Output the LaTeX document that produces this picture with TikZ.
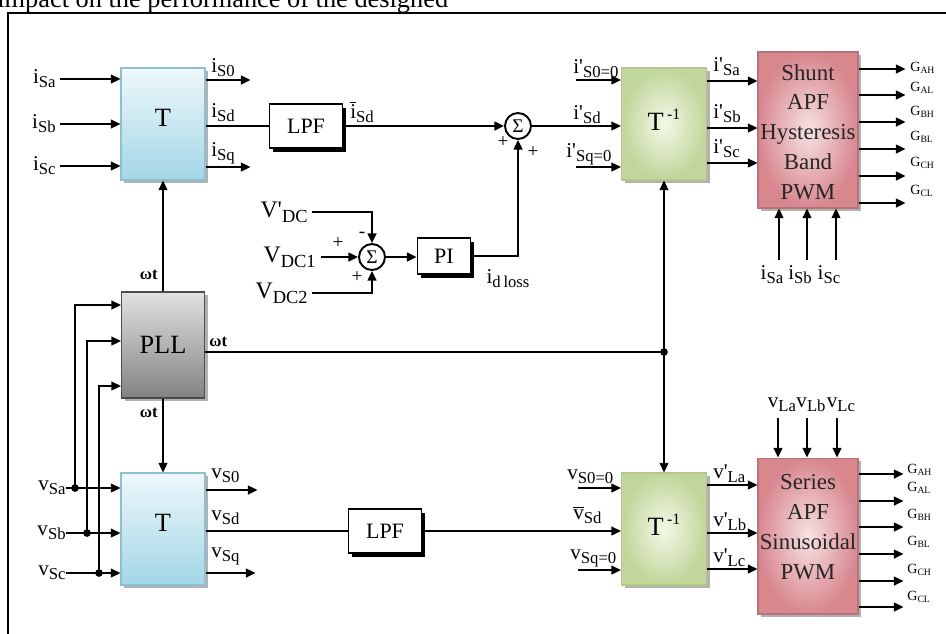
\documentclass[tikz,border=0pt]{standalone}
\usepackage{fontspec}
\setmainfont{Liberation Serif}
\usetikzlibrary{arrows.meta,shadows,positioning}

\definecolor{tTop}{HTML}{EEF8FB}
\definecolor{tBot}{HTML}{A3D6E6}
\definecolor{tEdge}{HTML}{8CC0D2}
\definecolor{gIn}{HTML}{F4F8E8}
\definecolor{gOut}{HTML}{C0D69A}
\definecolor{gEdge}{HTML}{B2C98A}
\definecolor{pTop}{HTML}{E2E2E2}
\definecolor{pBot}{HTML}{828282}
\definecolor{rIn}{HTML}{F7E2E3}
\definecolor{rOut}{HTML}{D8878F}

\newcommand{\pr}{\textquotesingle}
\newcommand{\sig}[2]{{\fontsize{12}{12}\selectfont #1}\raisebox{-0.5ex}{\fontsize{9.5}{10}\selectfont #2}}
\newcommand{\vsig}[2]{{\fontsize{13.5}{14}\selectfont #1}\raisebox{-0.6ex}{\fontsize{10.5}{11}\selectfont #2}}
\newcommand{\gsig}[1]{{\fontsize{8}{8}\selectfont G}\raisebox{-0.3ex}{\fontsize{5.5}{6}\selectfont #1}}
\newcommand{\tinv}{T\hspace{2pt}\raisebox{0.9ex}{\fontsize{9}{9}\selectfont -1}}
\newcommand{\wt}{{\fontsize{9.5}{10}\selectfont\bfseries ωt}}
\newcommand{\ibar}{\ensuremath{\overline{\mbox{i}}}}
\newcommand{\vbar}{\ensuremath{\overline{\mbox{v}}}}

\begin{document}
\begin{tikzpicture}[x=0.02cm,y=-0.02cm]
\tikzstyle{every node}+=[inner sep=0pt]
\tikzstyle{wire}=[line width=1.1pt]
\tikzstyle{arr}=[wire,-{Triangle[length=5.5pt,width=5pt]}]
\tikzstyle{rarr}=[wire,{Triangle[length=5.5pt,width=5pt]}-]
\tikzstyle{tblock}=[draw=tEdge,line width=0.6pt,top color=tTop,bottom color=tBot,minimum width=1.68cm,minimum height=2.24cm,font=\fontsize{15}{15}\selectfont,text depth=6.8pt,drop shadow={shadow xshift=1.8pt,shadow yshift=-1.8pt,fill=black,opacity=0.3}]
\tikzstyle{ginv}=[draw=gEdge,line width=0.6pt,inner color=gIn,outer color=gOut,minimum width=1.7cm,minimum height=2.24cm,font=\fontsize{15}{15}\selectfont,text depth=5pt,drop shadow={shadow xshift=1.8pt,shadow yshift=-1.8pt,fill=black,opacity=0.3}]
\tikzstyle{pllblock}=[draw=gray!60!black,line width=0.6pt,top color=pTop,bottom color=pBot,minimum width=1.66cm,minimum height=2.12cm,font=\fontsize{15}{15}\selectfont,drop shadow={shadow xshift=1.8pt,shadow yshift=-1.8pt,fill=black,opacity=0.3}]
\tikzstyle{apf}=[draw=rOut!85!black,line width=0.6pt,inner color=rIn,outer color=rOut,minimum width=2cm,minimum height=3.12cm,drop shadow={shadow xshift=1.8pt,shadow yshift=-1.8pt,fill=black,opacity=0.3}]
\tikzstyle{apftext}=[align=center,font=\fontsize{13}{17}\selectfont,text=black!85]
\tikzstyle{filt}=[draw,line width=1.1pt,fill=white,minimum width=1.46cm,minimum height=0.88cm,font=\fontsize{12.5}{13}\selectfont,drop shadow={shadow xshift=2.2pt,shadow yshift=-2.2pt,fill=black,opacity=1}]
\tikzstyle{sumc}=[circle,draw,line width=1.1pt,fill=white,minimum size=0.52cm,font=\fontsize{11}{11}\selectfont]
\tikzstyle{sgn}=[font=\fontsize{11}{11}\selectfont]

\useasboundingbox (0,0) rectangle (946,633);
\clip (0,0) rectangle (946,633);

% caption line and frame
\node[anchor=base west,font=\fontsize{15}{15}\selectfont] (cap) at (-3,7) {impact on the performance of the designed};
\draw[line width=1.1pt] (8,650) |- (960,13);

% blocks
\node[tblock] (T1) at (163,124) {T};
\node[pllblock] (PLL) at (163,345) {PLL};
\node[tblock] (T2) at (163,529) {T};
\node[filt] (LPF1) at (306,126) {LPF};
\node[filt] (LPF2) at (385,531) {LPF};
\node[filt,minimum width=1.06cm,minimum height=0.72cm] (PI) at (444,256) {PI};
\node[sumc] (S1) at (518,126) {Σ};
\node[sumc] (S2) at (372,257) {Σ};
\node[ginv] (Ti1) at (664,124) {\tinv};
\node[ginv] (Ti2) at (664,529) {\tinv};
\node[apf] (SH) at (808,130) {};
\node[apftext] at (808,132) {Shunt\\APF\\Hysteresis\\Band\\PWM};
\node[apf] (SE) at (808,536) {};
\node[apftext] at (808,527) {Series\\APF\\Sinusoidal\\PWM};

% source currents into T
\foreach \y/\s [count=\k] in {79/Sa,124/Sb,166/Sc}{
  \node[anchor=east] (isin\k) at (56,\y) {\sig{i}{\s}};
  \draw[arr] ([xshift=2pt]isin\k.east) -- (T1.west |- isin\k);
}
\draw[arr] (T1.east |- 0,80) -- ++(45,0);
\draw[arr] (T1.east |- 0,167) -- ++(45,0);
\draw[wire] (T1.east |- LPF1) -- (LPF1);
\node[anchor=south west] at (211,77) {\sig{i}{S0}};
\node[anchor=south west] at (211,122) {\sig{i}{Sd}};
\node[anchor=south west] at (211,164) {\sig{i}{Sq}};

% d axis current and dc loop
\draw[arr] (LPF1) -- (S1);
\node[anchor=south west] at (350,123) {\sig{\ibar}{Sd}};
\node[sgn] at (503,142) {+};
\node[sgn] at (533,152) {+};
\node[anchor=east] (vdcp) at (308,212) {\vsig{V\pr}{DC}};
\node[anchor=east] (vdc1) at (316,257) {\vsig{V}{DC1}};
\node[anchor=east] (vdc2) at (308,293) {\vsig{V}{DC2}};
\draw[arr] ([xshift=2pt]vdcp.east) -| (S2.north);
\draw[arr] ([xshift=3pt]vdc1.east) -- (S2.west);
\draw[arr] ([xshift=2pt]vdc2.east) -| (S2.south);
\node[sgn] at (362,235) {-};
\node[sgn] at (338,243) {+};
\node[sgn] at (357,277) {+};
\draw[arr] (S2) -- (S2 -| PI.west);
\draw[arr] (PI) -| (S1);
\node at (508,279) {\sig{i}{d\,loss}};

% reference currents
\draw[arr] (S1) -- (S1 -| Ti1.west);
\node[anchor=south west] at (573,124) {\sig{i\pr}{Sd}};
\draw[rarr] (Ti1.west |- 0,80) -- ++(-45,0);
\draw[rarr] (Ti1.west |- 0,167) -- ++(-45,0);
\node[anchor=south west] at (573,78) {\sig{i\pr}{S0=0}};
\node[anchor=south west] at (566,165) {\sig{i\pr}{Sq=0}};
\foreach \y/\s in {81/Sa,128/Sb,163/Sc}{
  \draw[arr] (Ti1.east |- 0,\y) -- (SH.west |- 0,\y);
  \node[anchor=south west] at (713,{\y-5}) {\sig{i\pr}{\s}};
}
\foreach \x/\s in {779/Sa,807/Sb,836/Sc}{
  \draw[rarr] (SH.south -| \x,0) -- (\x,260);
  \node[anchor=north] at ({\x-7},265) {\sig{i}{\s}};
}
\foreach \ya/\yl/\g in {69/68/AH,95/88/AL,122/112/BH,149/137/BL,176/163/CH,203/191/CL}{
  \draw[arr] (SH.east |- 0,\ya) -- ++(47,0);
  \node[anchor=west] at (910,\yl) {\gsig{\g}};
}

% PLL
\draw[arr] (PLL) -- (T1);
\draw[arr] (PLL) -- (T2);
\node[anchor=east] at (158,275) {\wt};
\node[anchor=east] at (158,413) {\wt};
\coordinate (J) at (664,352);
\draw[wire] (PLL.east |- J) -- (J);
\fill (J) circle (2.2pt);
\draw[arr] (J) -- (Ti1);
\draw[arr] (J) -- (Ti2);
\node[anchor=south west] at (209,347) {\wt};

% source voltages into T and PLL
\foreach \y/\s/\x [count=\k] in {488/Sa/75,533/Sb/87,573/Sc/99}{
  \node[anchor=east] (vsin\k) at (66,\y) {\sig{v}{\s}};
  \coordinate (D\k) at (\x,\y);
  \draw[arr] (vsin\k) -- (T2.west |- vsin\k);
  \fill (D\k) circle (2.2pt);
}
\draw[arr] (D1) |- (PLL.west |- 0,305);
\draw[arr] (D2) |- (PLL.west |- 0,341);
\draw[arr] (D3) |- (PLL.west |- 0,386);
\draw[arr] (T2.east |- 0,490) -- ++(52,0);
\draw[arr] (T2.east |- 0,573) -- ++(50,0);
\draw[wire] (T2.east |- LPF2) -- (LPF2);
\node[anchor=south west] at (211,483) {\sig{v}{S0}};
\node[anchor=south west] at (211,525) {\sig{v}{Sd}};
\node[anchor=south west] at (211,565) {\sig{v}{Sq}};

% reference voltages
\draw[arr] (LPF2) -- (LPF2 -| Ti2.west);
\draw[rarr] (Ti2.west |- 0,488) -- ++(-43,0);
\draw[rarr] (Ti2.west |- 0,570) -- ++(-43,0);
\node[anchor=south west] at (567,484) {\sig{v}{S0=0}};
\node[anchor=south west] at (573,524) {\sig{\vbar}{Sd}};
\node[anchor=south west] at (570,567) {\sig{v}{Sq=0}};
\foreach \y/\s in {485/La,533/Lb,569/Lc}{
  \draw[arr] (Ti2.east |- 0,\y) -- (SE.west |- 0,\y);
  \node[anchor=south west] at (713,{\y-2}) {\sig{v\pr}{\s}};
}
\foreach \x/\s in {778/La,807/Lb,837/Lc}{
  \draw[arr] (\x,418) -- (SE.north -| \x,0);
  \node[anchor=south] at ({\x+4},412) {\sig{v}{\s}};
}
\foreach \ya/\yl/\g in {474/470/AH,501/488/AL,527/515/BH,554/542/BL,581/570/CH,607/597/CL}{
  \draw[arr] (SE.east |- 0,\ya) -- ++(45,0);
  \node[anchor=west] at (907,\yl) {\gsig{\g}};
}
\end{tikzpicture}
\end{document}
